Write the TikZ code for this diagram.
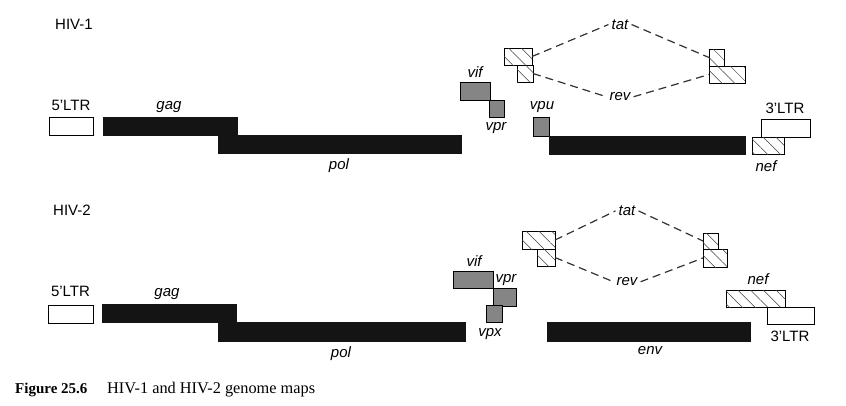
\documentclass[tikz,border=0pt]{standalone}
\usepackage{fontspec}
\setmainfont{Liberation Serif}
\setsansfont{Liberation Sans}
\usetikzlibrary{fit,patterns.meta}
\begin{document}
\begin{tikzpicture}[x=1pt,y=-1pt,
  box/.style={inner sep=0pt, outer sep=0pt, draw=black, line width=0.9pt},
  wbox/.style={box, fill=white},
  bbar/.style={box, fill=black!92, draw=black!92},
  gbox/.style={box, fill=black!48},
  hbox/.style={box, fill=white, postaction={pattern={Lines[angle=-45,distance=9pt,line width=0.5pt]}, pattern color=black!75}},
  lab/.style={font=\sffamily\fontsize{15}{18}\selectfont, inner sep=0pt, anchor=base},
  glab/.style={lab, font=\sffamily\itshape\fontsize{15}{18}\selectfont},
  slab/.style={glab, inner sep=3pt},
  dline/.style={draw=black!80, line width=1.2pt, dash pattern=on 8pt off 5pt},
]
\useasboundingbox (0,0) rectangle (846,405);
\fill[white] (0,0) rectangle (846,405);

% ---------------- HIV-1 ----------------
\node[lab, anchor=base west] (hiv1) at (55,29) {HIV-1};
\node[wbox, fit={(49,117) (93,135)}] (ltr5a) {};
\node[bbar, fit={(103,117) (237,135)}] (gaga) {};
\node[bbar, fit={(218,135) (461,153)}] (pola) {};
\node[gbox, fit={(460,82) (490,100)}] (vifa) {};
\node[gbox, fit={(489,100) (504,117)}] (vpra) {};
\node[gbox, fit={(533,117) (549,136)}] (vpua) {};
\node[bbar, fit={(549,136) (745,154)}] (enva) {};
\node[wbox, fit={(761,119) (810,137)}] (ltr3a) {};
\node[hbox, fit={(752,137) (784,154)}] (nefa) {};
\node[hbox, fit={(504,48) (532,65)}] (lua) {};
\node[hbox, fit={(517,65) (533,82)}] (lla) {};
\node[hbox, fit={(709,49) (724,66)}] (rua) {};
\node[hbox, fit={(709,66) (745,83)}] (rla) {};

\node[lab] (ltr5alab) at (71,110) {5’LTR};
\node[glab] (gagalab) at (169,109.5) {gag};
\node[glab] (polalab) at (339,169) {pol};
\node[glab] (vifalab) at (475,77.5) {vif};
\node[glab] (vpralab) at (496,130.5) {vpr};
\node[glab] (vpualab) at (542,109.5) {vpu};
\node[lab] (ltr3alab) at (785,113) {3’LTR};
\node[glab] (nefalab) at (766,171) {nef};
\node[slab] (tata) at (620,29.3) {tat};
\node[slab] (reva) at (620,100.7) {rev};

\draw[dline] (lua.east) -- (tata.west);
\draw[dline] (tata.east) -- (rua.west);
\draw[dline] (lla.east) -- (reva.west);
\draw[dline] (reva.east) -- (rla.west);

% ---------------- HIV-2 ----------------
\node[lab, anchor=base west] (hiv2) at (53,215) {HIV-2};
\node[wbox, fit={(48,305) (93,323)}] (ltr5b) {};
\node[bbar, fit={(102,304) (236,322)}] (gagb) {};
\node[bbar, fit={(218,322) (465,341)}] (polb) {};
\node[gbox, fit={(453,271) (493,288)}] (vifb) {};
\node[gbox, fit={(493,288) (516,306)}] (vprb) {};
\node[gbox, fit={(486,305) (502,322)}] (vpxb) {};
\node[bbar, fit={(547,322) (750,341)}] (envb) {};
\node[hbox, fit={(726,290) (785,307)}] (nefb) {};
\node[wbox, fit={(767,307) (814,324)}] (ltr3b) {};
\node[hbox, fit={(522,231) (555,249)}] (lub) {};
\node[hbox, fit={(537,249) (555,266)}] (llb) {};
\node[hbox, fit={(703,233) (718,249)}] (rub) {};
\node[hbox, fit={(703,249) (727,267)}] (rlb) {};

\node[lab] (ltr5blab) at (70.5,296.7) {5’LTR};
\node[glab] (gagblab) at (167,296.8) {gag};
\node[glab] (polblab) at (341,357) {pol};
\node[glab] (vifblab) at (474,266.7) {vif};
\node[glab] (vprblab) at (506,282.8) {vpr};
\node[glab] (vpxblab) at (490,336) {vpx};
\node[glab] (nefblab) at (758,284.3) {nef};
\node[lab] (ltr3blab) at (790,341) {3’LTR};
\node[glab] (envblab) at (650,354.3) {env};
\node[slab] (tatb) at (627,215.7) {tat};
\node[slab] (revb) at (627,285.7) {rev};

\draw[dline] (lub.east) -- (tatb.west);
\draw[dline] (tatb.east) -- (rub.west);
\draw[dline] (llb.east) -- (revb.west);
\draw[dline] (revb.east) -- (rlb.west);

% ---------------- caption ----------------
\node[inner sep=0pt, anchor=base west, font=\rmfamily\bfseries\fontsize{15}{18}\selectfont] (capnum) at (15,393.5) {Figure 25.6};
\node[inner sep=0pt, anchor=base west, font=\rmfamily\fontsize{16.3}{18}\selectfont] (captext) at (107,393.5) {HIV-1 and HIV-2 genome maps};
\end{tikzpicture}
\end{document}
